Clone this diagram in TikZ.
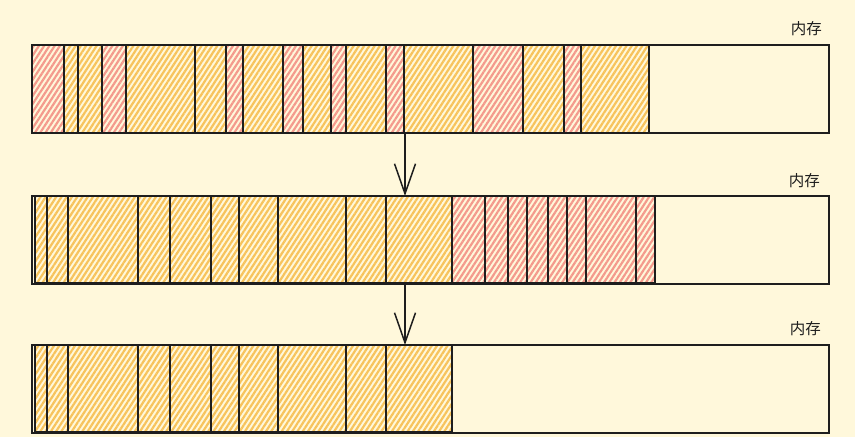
\documentclass[tikz,border=0pt]{standalone}
\usepackage{fontspec}
\newfontfamily\cjk{Noto Sans CJK SC}
\usepackage{xcolor}
\usetikzlibrary{arrows.meta,positioning,patterns.meta}

\definecolor{paper}{HTML}{FFF8DB}
\definecolor{ink}{HTML}{1E1E1E}
\definecolor{hatchorange}{HTML}{F7C35C}
\definecolor{hatchred}{HTML}{F49A8C}

\begin{document}
\begin{tikzpicture}[
    x=1pt, y=-1pt,
    font=\cjk\fontsize{15.5}{18}\selectfont,
    membox/.style={draw=ink, line width=1.7pt, minimum height=88pt, inner sep=0pt, outer sep=0pt, anchor=north west},
    blockO/.style={draw=ink, line width=1.7pt, pattern={Lines[angle=57,distance=4.4pt,line width=2.2pt]}, pattern color=hatchorange},
    blockR/.style={draw=ink, line width=1.7pt, pattern={Lines[angle=57,distance=4.4pt,line width=2.2pt]}, pattern color=hatchred},
    memlabel/.style={anchor=south east, inner sep=0pt, text=ink},
    arr/.style={-{Straight Barb[length=30pt,width=21pt]}, draw=ink, line width=1.5pt}
]
\fill[paper] (0,0) rectangle (855,437);
\useasboundingbox (0,0) rectangle (855,437);

% before compaction
\foreach \a/\b/\c in {32/64/R, 64/78/O, 78/102/O, 102/126/R, 126/195/O, 195/226/O,
    226/243/R, 243/283/O, 283/303/R, 303/331/O, 331/346/R, 346/386/O, 386/404/R,
    404/473/O, 473/523/R, 523/564/O, 564/581/R, 581/649/O}
  \draw[block\c] (\a,45) rectangle (\b,133);
\node[membox, minimum width=797pt] (mem1) at (32,45) {};

% live blocks moved to the front
\foreach \a/\b/\c in {35/47/O, 47/68/O, 68/138/O, 138/170/O, 170/211/O, 211/239/O,
    239/278/O, 278/346/O, 346/386/O, 386/452/O, 452/485/R, 485/508/R, 508/527/R,
    527/548/R, 548/567/R, 567/586/R, 586/636/R, 636/655/R}
  \draw[block\c] (\a,196) rectangle (\b,283);
\node[membox, minimum width=797pt] (mem2) at (32,196) {};

% garbage cleared
\foreach \a/\b in {35/47, 47/68, 68/138, 138/170, 170/211, 211/239,
    239/278, 278/346, 346/386, 386/452}
  \draw[blockO] (\a,345) rectangle (\b,432);
\node[membox, minimum width=797pt] (mem3) at (32,345) {};

\node[memlabel] (lab1) at ([xshift=-7pt,yshift=9pt]mem1.north east) {内存};
\node[memlabel] (lab2) at ([xshift=-9pt,yshift=8pt]mem2.north east) {内存};
\node[memlabel] (lab3) at ([xshift=-8pt,yshift=9pt]mem3.north east) {内存};

\coordinate (drop) at (405,0);
\draw[arr] (drop |- mem1.south) -- (drop |- mem2.north);
\draw[arr] (drop |- mem2.south) -- (drop |- mem3.north);
\end{tikzpicture}
\end{document}
